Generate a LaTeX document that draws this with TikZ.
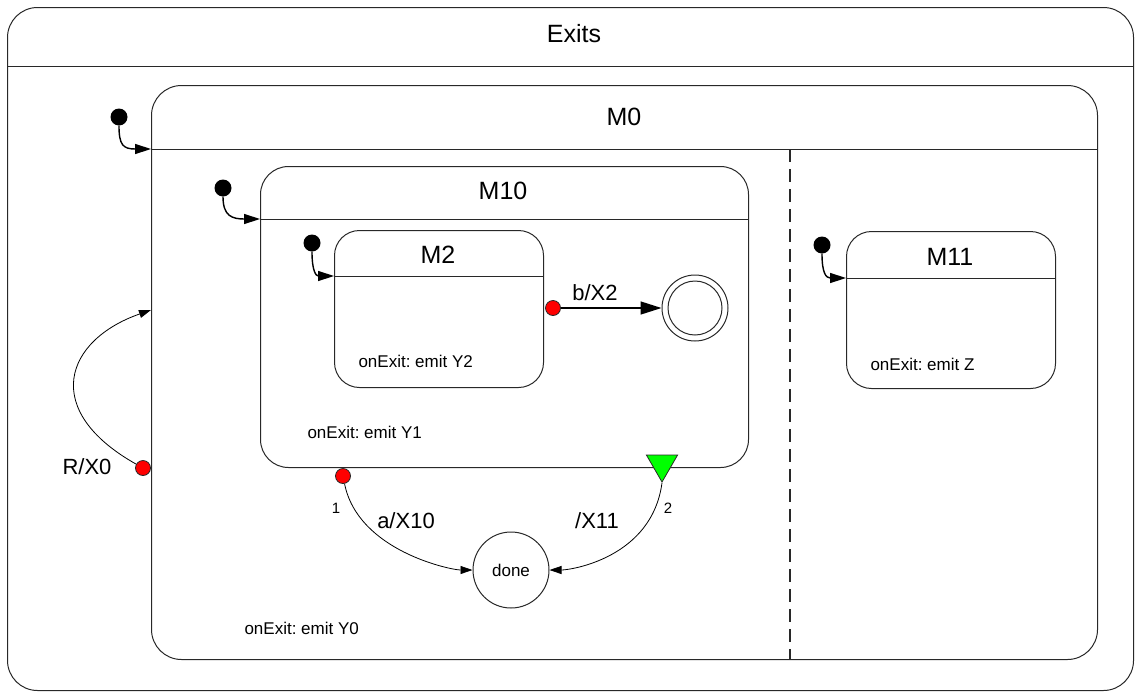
\documentclass[tikz,border=0pt]{standalone}
\usepackage{fontspec}
\setmainfont{Liberation Sans}
\usetikzlibrary{arrows.meta,shapes.geometric}
\definecolor{linegray}{RGB}{40,40,40}
\definecolor{exitred}{RGB}{255,0,0}
\definecolor{entrygreen}{RGB}{0,255,0}
\frenchspacing

\begin{document}
\begin{tikzpicture}[x=1pt, y=-1pt,
    statebox/.style={draw=linegray, line width=1pt, rounded corners=#1, inner sep=0pt, anchor=north west},
    headline/.style={draw=linegray, line width=1pt},
    titletext/.style={font=\fontsize{25}{30}\selectfont},
    actiontext/.style={font=\fontsize{17}{20}\selectfont, anchor=west},
    translabel/.style={font=\fontsize{22}{26}\selectfont},
    pointlabel/.style={font=\fontsize{15}{17}\selectfont},
    initdot/.style={circle, fill=black, minimum size=17pt, inner sep=0pt},
    exitpoint/.style={circle, draw=linegray, fill=exitred, line width=0.8pt, minimum size=15pt, inner sep=0pt},
    initarrow/.style={line width=1.4pt, -{Triangle[length=16pt,width=10pt]}},
    bigarrow/.style={line width=1.4pt, -{Triangle[length=21pt,width=13pt]}},
    smallarrow/.style={line width=0.8pt, -{Triangle[length=12pt,width=8pt]}}]

    \useasboundingbox (0,0) rectangle (1135,691);

    % Outer state
    \node[statebox=30pt, minimum width=1126pt, minimum height=683pt] (exits) at (7,7) {};
    \draw[headline] (7,66) -- (1133,66);
    \node[titletext] (exitstitle) at (574,34) {Exits};

    % M0 with its two regions
    \node[statebox=30pt, minimum width=946pt, minimum height=574pt] (m0) at (151,85) {};
    \draw[headline] (151,149) -- (1097,149);
    \node[titletext] (m0title) at (624,117) {M0};
    \draw[linegray, line width=1.4pt, dash pattern=on 13pt off 7pt] (790,149) -- (790,659);

    % M10
    \node[statebox=28pt, minimum width=488pt, minimum height=301pt] (m10) at (260,166) {};
    \draw[headline] (260,219) -- (748,219);
    \node[titletext] (m10title) at (503,191) {M10};

    % M2
    \node[statebox=25pt, minimum width=209pt, minimum height=157pt] (m2) at (334,230) {};
    \draw[headline] (334,276) -- (543,276);
    \node[titletext] (m2title) at (438,255) {M2};

    % M11
    \node[statebox=25pt, minimum width=209pt, minimum height=157pt] (m11) at (846,231) {};
    \draw[headline] (846,278) -- (1055,278);
    \node[titletext] (m11title) at (950,257) {M11};

    % Exit actions
    \node[actiontext] (m2action) at (355,361) {onExit: emit Y2};
    \node[actiontext] (m10action) at (304,432) {onExit: emit Y1};
    \node[actiontext] (m0action) at (241,628) {onExit: emit Y0};
    \node[actiontext] (m11action) at (867,364) {onExit: emit Z};

    % Initial transitions
    \node[initdot] (m0init) at (119,117) {};
    \coordinate (m0entry) at (151,149);
    \draw[initarrow] (m0init) .. controls +(0,28) and +(-28,0) .. (m0entry);

    \node[initdot] (m10init) at (223,188) {};
    \coordinate (m10entry) at (260,219);
    \draw[initarrow] (m10init) .. controls +(0,28) and +(-28,0) .. (m10entry);

    \node[initdot] (m2init) at (312,243) {};
    \coordinate (m2entry) at (334,276);
    \draw[initarrow] (m2init) .. controls +(0,28) and +(-18,0) .. (m2entry);

    \node[initdot] (m11init) at (822,245) {};
    \coordinate (m11entry) at (846,278);
    \draw[initarrow] (m11init) .. controls +(0,28) and +(-20,0) .. (m11entry);

    % Final state of M10
    \node[circle, draw=linegray, line width=1pt, minimum size=66pt, inner sep=0pt] (final) at (695,308) {};
    \draw[linegray, line width=1pt] (final.center) circle[radius=27pt];

    \node[exitpoint] (m2out) at (553,308) {};
    \draw[bigarrow] (m2out) -- (final);
    \node[translabel] (bxlabel) at (595,293) {b/X2};

    % Exit point of M0
    \node[exitpoint] (m0out) at (143,468) {};
    \coordinate (m0reentry) at (151,310);
    \draw[smallarrow] (m0out) .. controls (40,410) and (65,340) .. (m0reentry);
    \node[translabel] (rxlabel) at (87,467) {R/X0};

    % done and the two exits of M10
    \node[circle, draw=linegray, line width=1pt, minimum size=76pt, inner sep=0pt,
          font=\fontsize{17}{20}\selectfont] (done) at (511,570) {done};

    \node[exitpoint] (m10out) at (343,476) {};
    \node[regular polygon, regular polygon sides=3, shape border rotate=180, draw=linegray,
          fill=entrygreen, line width=0.8pt, minimum size=36pt, inner sep=0pt] (m10exit) at (662,464) {};

    \draw[smallarrow] (m10out) .. controls +(15,75) and +(-60,0) .. (done);
    \draw[smallarrow] (m10exit.corner 1) .. controls +(-10,75) and +(60,0) .. (done);

    \node[pointlabel] (pt1) at (336,508) {1};
    \node[pointlabel] (pt2) at (668,508) {2};
    \node[translabel] (axlabel) at (406,521) {a/X10};
    \node[translabel] (xlabel) at (597,521) {/X11};
\end{tikzpicture}
\end{document}
